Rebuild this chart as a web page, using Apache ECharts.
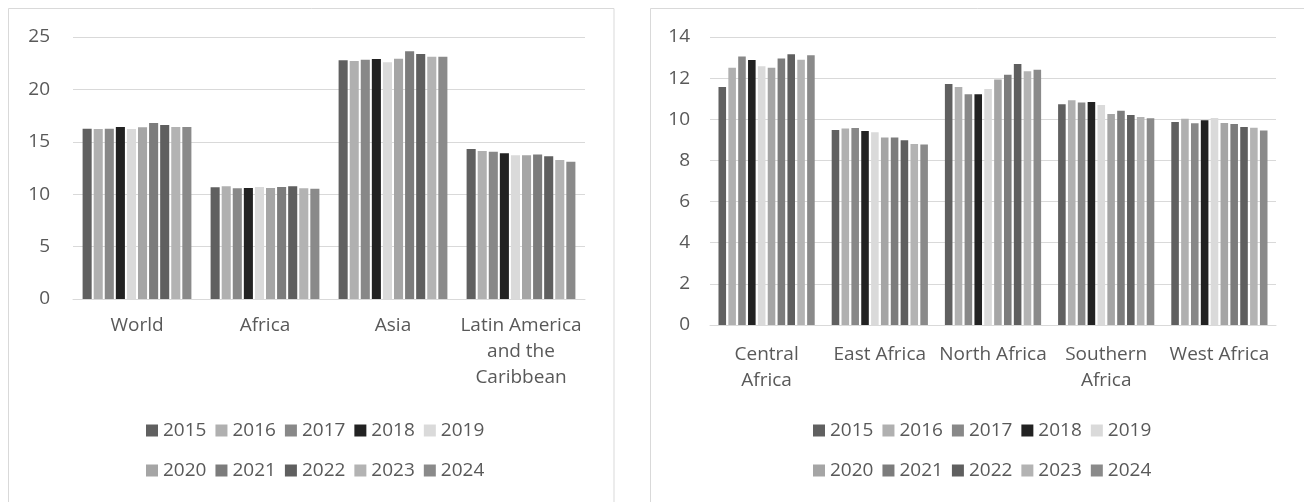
<!DOCTYPE html>
<html><head><meta charset="utf-8">
<script src="https://cdn.jsdelivr.net/npm/echarts@6/dist/echarts.min.js"></script>
<style>html,body{margin:0;padding:0;background:#fff}#c{width:1304px;height:502px}</style>
</head><body><div id="c"></div>
<script>
const years = ['2015','2016','2017','2018','2019','2020','2021','2022','2023','2024'];
const colors = ['#606060','#b0b0b0','#888888','#222222','#dadada','#a5a5a5','#7c7c7c','#5f5f5f','#b3b3b3','#8a8a8a'];

const leftCategories = ['World','Africa','Asia','Latin America and the Caribbean'];
const leftTickLabels = ['World','Africa','Asia','Latin America\nand the\nCaribbean'];
const world        = [16.25,16.22,16.25,16.41,16.22,16.38,16.79,16.60,16.41,16.41];
const africa       = [10.66,10.75,10.56,10.59,10.69,10.59,10.69,10.75,10.56,10.53];
const asia         = [22.77,22.71,22.84,22.90,22.58,22.93,23.63,23.38,23.12,23.12];
const latinAmerica = [14.31,14.12,14.06,13.90,13.71,13.71,13.80,13.61,13.26,13.10];

const rightCategories = ['Central Africa','East Africa','North Africa','Southern Africa','West Africa'];
const rightTickLabels = ['Central\nAfrica','East Africa','North Africa','Southern\nAfrica','West Africa'];
const centralAfrica  = [11.57,12.50,13.05,12.88,12.58,12.51,12.95,13.16,12.90,13.11];
const eastAfrica     = [9.48,9.55,9.58,9.43,9.37,9.12,9.12,8.98,8.80,8.77];
const northAfrica    = [11.72,11.57,11.22,11.22,11.47,11.93,12.16,12.69,12.33,12.41];
const southernAfrica = [10.73,10.92,10.81,10.84,10.70,10.26,10.42,10.21,10.11,10.05];
const westAfrica     = [9.87,10.02,9.81,9.95,10.06,9.82,9.77,9.63,9.59,9.45];

const leftTicks = {min:0, max:25, interval:5};
const rightTicks = {min:0, max:14, interval:2};

const leftRows = [world, africa, asia, latinAmerica];
const rightRows = [centralAfrica, eastAfrica, northAfrica, southernAfrica, westAfrica];

const FONT = 'Open Sans';
const TXT = '#595959';
const GRID = '#d9d9d9';
const FS = 19;

const chart = echarts.init(document.getElementById('c'));

function yAx(idx, t, margin){
  return {type:'value', gridIndex:idx, min:t.min, max:t.max, interval:t.interval,
    axisLine:{show:false}, axisTick:{show:false},
    splitLine:{lineStyle:{color:GRID, width:1}},
    axisLabel:{color:TXT, fontSize:FS, fontFamily:FONT, margin:margin}};
}
function xAx(idx, cats, ticks, margin){
  return {type:'category', gridIndex:idx, data:cats,
    axisLine:{lineStyle:{color:GRID, width:1}}, axisTick:{show:false},
    axisLabel:{interval:0, color:TXT, fontSize:FS, fontFamily:FONT, margin:margin, lineHeight:26,
      formatter:(v, i)=>ticks[i]}};
}
function legend(left, top, names){
  return {left:left, top:top, data:names, icon:'rect', itemWidth:12, itemHeight:12,
    itemGap:9, padding:0, selectedMode:false,
    textStyle:{color:TXT, fontSize:FS, fontFamily:FONT}};
}

const series = [];
years.forEach((y, i) => {
  series.push({name:y, type:'bar', xAxisIndex:0, yAxisIndex:0,
    data: leftRows.map(r => r[i]), itemStyle:{color:colors[i]},
    barCategoryGap:'15%', barGap:'22%'});
});
years.forEach((y, i) => {
  series.push({name:y, type:'bar', xAxisIndex:1, yAxisIndex:1,
    data: rightRows.map(r => r[i]), itemStyle:{color:colors[i]},
    barCategoryGap:'15%', barGap:'30%'});
});

chart.setOption({
  animation:false,
  backgroundColor:'#fff',
  graphic:[
    {type:'rect', shape:{x:8.5, y:8.5, width:605.5, height:560}, style:{fill:'none', stroke:GRID, lineWidth:1}},
    {type:'rect', shape:{x:650.5, y:8.5, width:700, height:560}, style:{fill:'none', stroke:GRID, lineWidth:1}}
  ],
  grid:[
    {left:73, right:1304-585, top:37, bottom:502-299},
    {left:710, right:1304-1276, top:37, bottom:502-325}
  ],
  xAxis:[xAx(0, leftCategories, leftTickLabels, 14), xAx(1, rightCategories, rightTickLabels, 17)],
  yAxis:[yAx(0, leftTicks, 23), yAx(1, rightTicks, 20)],
  legend:[
    legend(146, 421, years.slice(0,5)),
    legend(146, 461, years.slice(5)),
    legend(813, 421, years.slice(0,5)),
    legend(813, 461, years.slice(5))
  ],
  series:series
});
</script></body></html>
